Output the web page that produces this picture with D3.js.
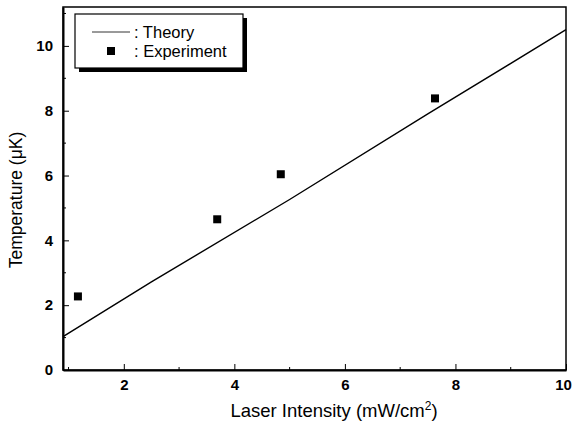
<!DOCTYPE html>
<html>
<head>
<meta charset="utf-8">
<script src="https://cdn.jsdelivr.net/npm/d3@7"></script>
<style>
  body { margin: 0; background: #fff; }
  svg { display: block; }
  text { font-family: "Liberation Sans", Arial, sans-serif; fill: #000; }
</style>
</head>
<body>
<svg id="chart" width="572" height="423"></svg>
<script>
// measured points
let expX = [1.17, 3.69, 4.84, 7.63];
let expY = [2.27, 4.65, 6.04, 8.38];

// theory curve
let theoryX = [0.9, 2.5, 5.0, 7.5, 10.0];
let theoryY = [1.03, 2.72, 5.26, 7.9, 10.5];

let xMajor = [2, 4, 6, 8, 10];
let xMinor = [1, 3, 5, 7, 9];
let yMajor = [0, 2, 4, 6, 8, 10];
let yMinor = [1, 3, 5, 7, 9, 11];

let legendItems = [': Theory', ': Experiment'];

function drawChart () {
    let svg = d3.select('#chart');

    let left = 63, right = 566, top = 7, bottom = 370;

    let x = d3.scaleLinear().domain([0.9, 10]).range([left, right]);
    let y = d3.scaleLinear().domain([0, 11.2]).range([bottom, top]);

    // frame
    svg.append('rect')
        .attr('x', left).attr('y', top)
        .attr('width', right - left).attr('height', bottom - top)
        .attr('fill', 'none')
        .attr('stroke', '#000')
        .attr('stroke-width', 1.5);

    // bottom axis, ticks inside
    let xAxis = d3.axisBottom(x)
        .tickValues(xMajor)
        .tickSizeInner(-6)
        .tickSizeOuter(0)
        .tickPadding(9)
        .tickFormat(d3.format('d'));
    let gx = svg.append('g')
        .attr('transform', 'translate(0,' + bottom + ')')
        .call(xAxis);
    gx.select('.domain').attr('stroke-width', 2);
    gx.selectAll('text')
        .attr('font-size', 15)
        .attr('font-weight', 'bold')
        .attr('font-family', '"Liberation Sans", Arial, sans-serif')
        .attr('dx', (d) => { return d === 10 ? -3 : 0; });

    gx.selectAll('line.minor')
        .data(xMinor)
        .enter()
        .append('line')
        .attr('class', 'minor')
        .attr('x1', (d) => { return x(d); })
        .attr('x2', (d) => { return x(d); })
        .attr('y1', 0)
        .attr('y2', -3)
        .attr('stroke', '#000');

    // left axis
    let yAxis = d3.axisLeft(y)
        .tickValues(yMajor)
        .tickSizeInner(-6)
        .tickSizeOuter(0)
        .tickPadding(10)
        .tickFormat(d3.format('d'));
    let gy = svg.append('g')
        .attr('transform', 'translate(' + left + ',0)')
        .call(yAxis);
    gy.select('.domain').attr('stroke-width', 2);
    gy.selectAll('text')
        .attr('font-size', 15)
        .attr('font-weight', 'bold')
        .attr('font-family', '"Liberation Sans", Arial, sans-serif');

    gy.selectAll('line.minor')
        .data(yMinor)
        .enter()
        .append('line')
        .attr('class', 'minor')
        .attr('x1', 0)
        .attr('x2', 3)
        .attr('y1', (d) => { return y(d); })
        .attr('y2', (d) => { return y(d); })
        .attr('stroke', '#000');

    // axis titles
    svg.append('text')
        .attr('x', 334)
        .attr('y', 417)
        .attr('text-anchor', 'middle')
        .attr('font-size', 18.5)
        .html('Laser Intensity (mW/cm<tspan dy="-7" font-size="12">2</tspan><tspan dy="7">)</tspan>');

    svg.append('text')
        .attr('transform', 'translate(22,200) rotate(-90)')
        .attr('text-anchor', 'middle')
        .attr('font-size', 17.5)
        .text('Temperature (\u03bcK)');

    // theory line
    let line = d3.line()
        .x((d) => { return x(d[0]); })
        .y((d) => { return y(d[1]); });
    svg.append('path')
        .datum(d3.zip(theoryX, theoryY))
        .attr('d', line)
        .attr('fill', 'none')
        .attr('stroke', '#000')
        .attr('stroke-width', 1.4);

    // experiment
    let sq = 8;
    svg.selectAll('rect.exp')
        .data(d3.zip(expX, expY))
        .enter()
        .append('rect')
        .attr('class', 'exp')
        .attr('x', (d) => { return x(d[0]) - sq / 2; })
        .attr('y', (d) => { return y(d[1]) - sq / 2; })
        .attr('width', sq)
        .attr('height', sq)
        .attr('fill', '#000');

    // legend with drop shadow
    let lg = svg.append('g').attr('transform', 'translate(75,14)');
    lg.append('rect')
        .attr('x', 4).attr('y', 4)
        .attr('width', 168).attr('height', 54)
        .attr('fill', '#000');
    lg.append('rect')
        .attr('x', 0).attr('y', 0)
        .attr('width', 168).attr('height', 54)
        .attr('fill', '#fff')
        .attr('stroke', '#000')
        .attr('stroke-width', 1.2);
    lg.append('line')
        .attr('x1', 17).attr('x2', 55)
        .attr('y1', 18).attr('y2', 18)
        .attr('stroke', '#000')
        .attr('stroke-width', 0.8);
    lg.append('rect')
        .attr('x', 32).attr('y', 33)
        .attr('width', sq).attr('height', sq)
        .attr('fill', '#000');
    lg.selectAll('text.item')
        .data(legendItems)
        .enter()
        .append('text')
        .attr('class', 'item')
        .attr('x', 59)
        .attr('y', (d, i) => { return 24 + i * 19; })
        .attr('font-size', 16.5)
        .text((d) => { return d; });
}

drawChart();
</script>
</body>
</html>
